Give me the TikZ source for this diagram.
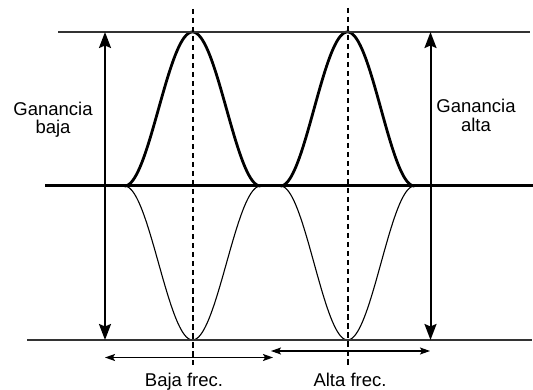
\documentclass[tikz,border=0pt]{standalone}
\usepackage{fontspec}
\setmainfont{Liberation Sans}
\usetikzlibrary{arrows.meta}
\begin{document}
\begin{tikzpicture}[x=1pt,y=-1pt,
  lbl/.style={font=\fontsize{18.5}{18.5}\selectfont,inner sep=0pt,align=center},
  guide/.style={line width=1.3pt,black!80},
  axisline/.style={line width=3pt,black},
  upper/.style={line width=2.8pt,black,line join=round},
  lower/.style={line width=1.1pt,black},
  center/.style={line width=1.6pt,dash pattern=on 5.5pt off 3.5pt},
  gainarrow/.style={line width=2pt,{Stealth[length=16pt,width=12pt,inset=2.5pt]}-{Stealth[length=16pt,width=12pt,inset=2.5pt]}},
  bandarrow/.style={line width=1.1pt,{Stealth[length=10pt,width=7pt,inset=2pt]}-{Stealth[length=10pt,width=7pt,inset=2pt]}}]
\useasboundingbox (0,0) rectangle (533,390);
% coordinates
\coordinate (topA) at (58,32);
\coordinate (topB) at (530,32);
\coordinate (botA) at (27,340);
\coordinate (botB) at (532,340);
\coordinate (axA) at (45,186);
\coordinate (axB) at (533,186);
\coordinate (dLa) at (192.7,9);
\coordinate (dLb) at (192.7,365);
\coordinate (dRa) at (347.9,8);
\coordinate (dRb) at (347.9,365);
\coordinate (gLa) at (105,32);
\coordinate (gLb) at (105,340);
\coordinate (gRa) at (430.5,32);
\coordinate (gRb) at (430.5,340);
\coordinate (bLa) at (105,357.5);
\coordinate (bLb) at (273,357.5);
\coordinate (bRa) at (271,351);
\coordinate (bRb) at (430,351);
% lower (thin) curves
\draw[lower] plot[domain=-68:68,samples=100,smooth] ({192.5+\x},{186+77*(1+cos(\x*180/68))});
\draw[lower] plot[domain=-67:67,samples=100,smooth] ({347.5+\x},{186+77*(1+cos(\x*180/67))});
% axis
\draw[axisline] (axA) -- (axB);
% upper (thick) curves
\draw[upper] plot[domain=-68:68,samples=100,smooth] ({192.5+\x},{186-77*(1+cos(\x*180/68))});
\draw[upper] plot[domain=-67:67,samples=100,smooth] ({347.5+\x},{186-77*(1+cos(\x*180/67))});
% guides
\draw[guide] (topA) -- (topB);
\draw[guide] (botA) -- (botB);
% center lines
\draw[center] (dLa) -- (dLb);
\draw[center] (dRa) -- (dRb);
% gain arrows
\draw[gainarrow] (gLa) -- (gLb);
\draw[gainarrow] (gRa) -- (gRb);
% band arrows
\draw[bandarrow] (bLa) -- (bLb);
\draw[bandarrow] (bRa) -- (bRb);
% labels
\node[lbl] (gbaja) at (53,119.5) {Ganancia\\baja};
\node[lbl] (galta) at (476,115.2) {Ganancia\\alta};
\node[lbl,anchor=base] (fbaja) at (184,386.5) {Baja frec.};
\node[lbl,anchor=base] (falta) at (350,386.5) {Alta frec.};
\end{tikzpicture}
\end{document}
